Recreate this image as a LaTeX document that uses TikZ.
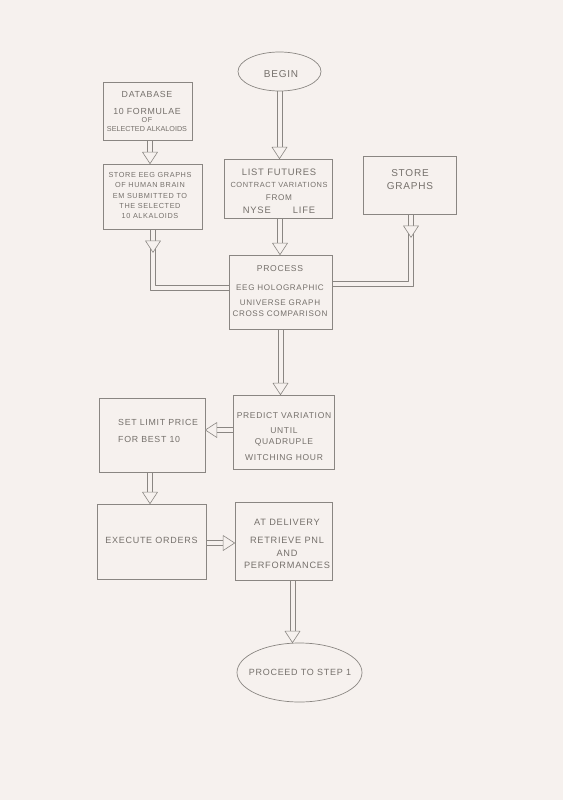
\documentclass[tikz,border=0pt]{standalone}
\usepackage{fontspec}
\setmainfont{Liberation Sans}[LetterSpace=8]
\usetikzlibrary{calc,shapes.geometric}
\definecolor{bg}{HTML}{F6F1EE}
\definecolor{linec}{HTML}{8A8682}
\definecolor{txtc}{HTML}{75706B}
\newcommand\fs[2]{\fontsize{#1}{#2}\selectfont}
\tikzset{
  box/.style={draw=linec, line width=0.7pt},
  oval/.style={draw=linec, line width=0.7pt, ellipse},
  txt/.style={align=center, text=txtc, inner sep=0pt},
  aline/.style={draw=linec, line width=0.6pt, line join=round},
  atip/.style={draw=linec, fill=bg, line width=0.6pt, line join=round},
}
% hollow double-line arrow from #1 to #2
\newcommand\holarrow[2]{%
  \coordinate (ha-c) at ($(#2)!11.5pt!(#1)$);
  \draw[aline] ($(#1)!2.3pt!90:(#2)$) -- ($(ha-c)!2.3pt!90:(#2)$);
  \draw[aline] ($(#1)!2.3pt!-90:(#2)$) -- ($(ha-c)!2.3pt!-90:(#2)$);
  \draw[atip] ($(ha-c)!7.5pt!90:(#2)$) -- (#2) -- ($(ha-c)!7.5pt!-90:(#2)$) -- cycle;
}
\begin{document}
\begin{tikzpicture}[x=1pt,y=-1pt]
\fill[bg] (0,0) rectangle (563,800);
\useasboundingbox (0,0) rectangle (563,800);

% shapes
\node[oval, minimum width=83pt, minimum height=39pt] (begin) at (279.5,71.5) {};
\node[box, minimum width=89pt, minimum height=58pt] (db) at (147.5,111) {};
\node[box, minimum width=99pt, minimum height=65pt] (eeg) at (153,196.5) {};
\node[box, minimum width=108pt, minimum height=59pt] (list) at (278.5,188.5) {};
\node[box, minimum width=93pt, minimum height=58pt] (graphs) at (409.5,185) {};
\node[box, minimum width=103pt, minimum height=74pt] (process) at (280.5,292) {};
\node[box, minimum width=101pt, minimum height=74pt] (predict) at (283.5,432) {};
\node[box, minimum width=106pt, minimum height=74pt] (limit) at (152,435) {};
\node[box, minimum width=109pt, minimum height=75pt] (exec) at (151.5,541.5) {};
\node[box, minimum width=97pt, minimum height=78pt] (deliv) at (283.5,541) {};
\node[oval, minimum width=125pt, minimum height=59pt] (proceed) at (299.5,672.5) {};

% texts
\node[txt, font=\fs{10}{12}] (tbegin) at (281,74) {BEGIN};
\node[txt, font=\fs{8.8}{11}] (tdb) at (147,111)
  {DATABASE\\[6pt]10 FORMULAE\\[-3pt]{\fs{7.2}{8}OF}\\[-2pt]{\fs{7.2}{9}\addfontfeature{LetterSpace=0}SELECTED ALKALOIDS}};
\node[txt, font=\fs{7.3}{10.2}] (teeg) at (150,195.5)
  {STORE EEG GRAPHS\\OF HUMAN BRAIN\\EM SUBMITTED TO\\THE SELECTED\\10 ALKALOIDS};
\node[txt, font=\fs{8.2}{12.7}] (tlist) at (279,191)
  {{\fs{9.4}{12.7}LIST FUTURES}\\{\fs{7.4}{12.7}CONTRACT VARIATIONS}\\FROM\\{\fs{9.4}{12.7}NYSE\qquad\ LIFE}};
\node[txt, font=\fs{10}{12.5}] (tgraphs) at (410,179.5) {STORE\\GRAPHS};
\node[txt, font=\fs{8.1}{13}] (tprocess) at (280,291)
  {{\fs{8.6}{13}PROCESS}\\[6pt]EEG HOLOGRAPHIC\\[2pt]UNIVERSE GRAPH\\[-2pt]CROSS COMPARISON};
\node[txt, font=\fs{8.5}{14}] (tpredict) at (284,436.5)
  {PREDICT VARIATION\\[1pt]UNTIL\\[-3pt]QUADRUPLE\\[2pt]WITCHING HOUR};
\node[txt, font=\fs{8.8}{17}, align=left, anchor=west] (tlimit) at (118,431)
  {SET LIMIT PRICE\\FOR BEST 10};
\node[txt, font=\fs{9}{11}] (texec) at (151.5,540.5) {EXECUTE ORDERS};
\node[txt, font=\fs{9.2}{13}] (tdeliv) at (287,544)
  {AT DELIVERY\\[5pt]RETRIEVE PNL\\AND\\[-1pt]PERFORMANCES};
\node[txt, font=\fs{9}{11}] (tproceed) at (300,672.5) {PROCEED TO STEP 1};

% connectors
\holarrow{begin.south}{begin.south |- list.north}
\holarrow{[xshift=2.5pt]db.south}{[xshift=2.5pt]db.south |- eeg.north}
\holarrow{[xshift=1.5pt]list.south}{[xshift=1.5pt]list.south |- process.north}

\coordinate (eegm) at ($(eeg.south)+(0,23)$);
\draw[aline] ([xshift=-2.3pt,yshift=8pt]eegm) |- ([yshift=1.5pt]process.west);
\draw[aline] ([xshift=2.3pt,yshift=8pt]eegm) |- ([yshift=6.5pt]process.west);
\holarrow{eeg.south}{eegm}

\coordinate (grm) at ($([xshift=1.5pt]graphs.south)+(0,23)$);
\draw[aline] ([xshift=2.3pt,yshift=8pt]grm) |- ([yshift=5.5pt]process.east);
\draw[aline] ([xshift=-2.3pt,yshift=8pt]grm) |- ([yshift=10.5pt]process.east);
\holarrow{[xshift=1.5pt]graphs.south}{grm}

\holarrow{process.south}{process.south |- predict.north}
\holarrow{[yshift=2pt]predict.west}{[yshift=2pt]predict.west -| limit.east}
\holarrow{[xshift=-2pt]limit.south}{[xshift=-2pt]limit.south |- exec.north}
\holarrow{[yshift=-1.5pt]exec.east}{[yshift=-1.5pt]exec.east -| deliv.west}
\holarrow{[xshift=9pt]deliv.south}{[xshift=9pt]deliv.south |- proceed.north}
\end{tikzpicture}
\end{document}
